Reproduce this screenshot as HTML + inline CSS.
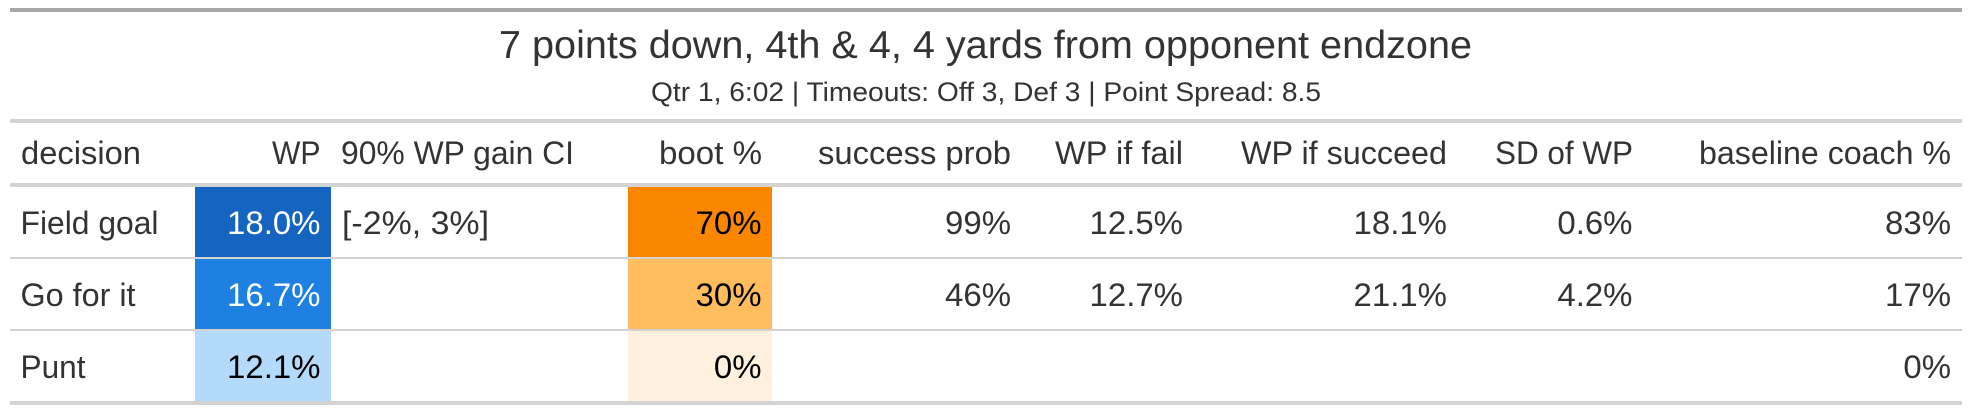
<!DOCTYPE html>
<html lang="en">
<head>
<meta charset="utf-8">
<title>Fourth down decision table</title>
<style>
  html, body { margin: 0; padding: 0; background: #ffffff; }
  body { width: 1972px; height: 412px; overflow: hidden; }
  svg { display: block; }
  text { font-family: "Liberation Sans", sans-serif; fill: #333333; }
</style>
</head>
<body>
<svg id="table" xmlns="http://www.w3.org/2000/svg" width="1972" height="412" viewBox="0 0 1972 412"></svg>
<script>
// ---- Data ----
const titleText = '7 points down, 4th & 4, 4 yards from opponent endzone';
const subtitleText = 'Qtr 1, 6:02 | Timeouts: Off 3, Def 3 | Point Spread: 8.5';
const columnLabels = ['decision', 'WP', '90% WP gain CI', 'boot %', 'success prob', 'WP if fail', 'WP if succeed', 'SD of WP', 'baseline coach %'];
const decisions = ['Field goal', 'Go for it', 'Punt'];
const wpValues = [18.0, 16.7, 12.1];
const ciLabels = ['[-2%, 3%]', '', ''];
const bootValues = [70, 30, 0];
const successValues = [99, 46, null];
const failValues = [12.5, 12.7, null];
const succeedValues = [18.1, 21.1, null];
const sdValues = [0.6, 4.2, null];
const coachValues = [83, 17, 0];
const wpColorDomain = [12.1, 16.7, 18.0];
const bootColorDomain = [0, 30, 70];

// ---- Layout and styling ----
const wpColorRange = ['#B4DAFB', '#1E80E0', '#1565C0'];
const bootColorRange = ['#FFF1DE', '#FFBD5E', '#FB8700'];
const layout = {
  left: 10, right: 1962,
  rowTop: 187, rowHeight: 72, cellHeight: 70,
  headerBaseline: 164, rowBaselineOffset: 47,
  wpCell: { x: 195, width: 136 },
  bootCell: { x: 628, width: 144 },
  bodySize: 32, titleSize: 39, subtitleSize: 26.5, valueStretch: 1.03
};
const headerSpans = {
  'decision': { x: 21, w: 120 },
  'WP': { x: 272, w: 48.5 },
  '90% WP gain CI': { x: 341, w: 233 },
  'boot %': { x: 659, w: 103 },
  'success prob': { x: 818, w: 193 },
  'WP if fail': { x: 1055, w: 128 },
  'WP if succeed': { x: 1241, w: 206 },
  'SD of WP': { x: 1495, w: 138 },
  'baseline coach %': { x: 1699, w: 252 }
};
const decisionWidths = { 'Field goal': 138, 'Go for it': 115, 'Punt': 65 };
const columnRight = { wp: 320.5, boot: 761.5, success: 1011, fail: 1183, succeed: 1447, sd: 1632.5, coach: 1951 };

const svg = document.getElementById('table');
const NS = 'http://www.w3.org/2000/svg';

// ---- Scales ----
function hexToRgb(h) {
  return [parseInt(h.slice(1, 3), 16), parseInt(h.slice(3, 5), 16), parseInt(h.slice(5, 7), 16)];
}
function colorScale(domain, range, v) {
  let i = 0;
  while (i < domain.length - 2 && v > domain[i + 1]) i++;
  const t = Math.max(0, Math.min(1, (v - domain[i]) / (domain[i + 1] - domain[i])));
  const a = hexToRgb(range[i]);
  const b = hexToRgb(range[i + 1]);
  return 'rgb(' + a.map((c, k) => Math.round(c + (b[k] - c) * t)).join(',') + ')';
}
function inkFor(fill) {
  const c = fill.match(/\d+/g).map(Number);
  const lum = 0.299 * c[0] + 0.587 * c[1] + 0.114 * c[2];
  return lum < 150 ? '#FFFFFF' : '#000000';
}
function rowTop(i) { return layout.rowTop + i * layout.rowHeight; }
function rowBaseline(i) { return rowTop(i) + layout.rowBaselineOffset; }

// ---- Drawing helpers ----
function addRect(name, x, y, w, h, fill) {
  const el = document.createElementNS(NS, 'rect');
  
  
  el.setAttribute('x', x);
  el.setAttribute('y', y);
  el.setAttribute('width', w);
  el.setAttribute('height', h);
  el.setAttribute('fill', fill);
  svg.appendChild(el);
  return el;
}
function addText(name, str, size, baseline, place, ink) {
  const el = document.createElementNS(NS, 'text');
  
  
  el.setAttribute('font-size', size);
  el.setAttribute('y', baseline);
  el.style.fill = ink || '#333333';
  el.textContent = str;
  svg.appendChild(el);
  const natural = el.getComputedTextLength();
  const width = place.w !== undefined ? place.w : natural * layout.valueStretch;
  const x = place.x !== undefined ? place.x : place.right - width;
  el.setAttribute('x', x);
  el.setAttribute('textLength', width);
  el.setAttribute('lengthAdjust', 'spacingAndGlyphs');
  return el;
}
function pct(v, digits) { return v.toFixed(digits) + '%'; }
function slug(s) { return s.toLowerCase().replace(/[^a-z0-9]+/g, '-').replace(/^-|-$/g, ''); }

// ---- Rules ----
const ruleWidth = layout.right - layout.left;
addRect('top-rule', layout.left, 8, ruleWidth, 4, '#A8A8A8');
addRect('title-rule', layout.left, 119, ruleWidth, 4, '#D3D3D3');
addRect('header-rule', layout.left, 183, ruleWidth, 4, '#D3D3D3');

// ---- Title ----
addText('table-title', titleText, layout.titleSize, 58, { x: 499, w: 973 });
addText('table-subtitle', subtitleText, layout.subtitleSize, 101, { x: 651, w: 670 });

// ---- Column headers ----
columnLabels.forEach(function (label) {
  addText('column-header-' + slug(label), label, layout.bodySize, layout.headerBaseline, headerSpans[label]);
});

// ---- Heat cells ----
wpValues.forEach(function (v, i) {
  addRect('wp-cell-' + slug(decisions[i]), layout.wpCell.x, rowTop(i), layout.wpCell.width, layout.cellHeight, colorScale(wpColorDomain, wpColorRange, v));
});
bootValues.forEach(function (v, i) {
  addRect('boot-cell-' + slug(decisions[i]), layout.bootCell.x, rowTop(i), layout.bootCell.width, layout.cellHeight, colorScale(bootColorDomain, bootColorRange, v));
});

// ---- Row rules ----
addRect('row-rule-field-goal', layout.left, 257, ruleWidth, 2, '#D3D3D3');
addRect('row-rule-go-for-it', layout.left, 329, ruleWidth, 2, '#D3D3D3');
addRect('bottom-rule', layout.left, 401, ruleWidth, 4, '#D3D3D3');

// ---- Body text ----
decisions.forEach(function (d, i) {
  const key = slug(d);
  const y = rowBaseline(i);
  addText('decision-' + key, d, layout.bodySize, y, { x: 20.5, w: decisionWidths[d] });
  addText('wp-value-' + key, pct(wpValues[i], 1), layout.bodySize, y, { right: columnRight.wp }, inkFor(colorScale(wpColorDomain, wpColorRange, wpValues[i])));
  if (ciLabels[i]) addText('ci-value-' + key, ciLabels[i], layout.bodySize, y, { x: 342, w: 147 });
  addText('boot-value-' + key, pct(bootValues[i], 0), layout.bodySize, y, { right: columnRight.boot }, inkFor(colorScale(bootColorDomain, bootColorRange, bootValues[i])));
  if (successValues[i] !== null) addText('success-value-' + key, pct(successValues[i], 0), layout.bodySize, y, { right: columnRight.success });
  if (failValues[i] !== null) addText('fail-value-' + key, pct(failValues[i], 1), layout.bodySize, y, { right: columnRight.fail });
  if (succeedValues[i] !== null) addText('succeed-value-' + key, pct(succeedValues[i], 1), layout.bodySize, y, { right: columnRight.succeed });
  if (sdValues[i] !== null) addText('sd-value-' + key, pct(sdValues[i], 1), layout.bodySize, y, { right: columnRight.sd });
  addText('coach-value-' + key, pct(coachValues[i], 0), layout.bodySize, y, { right: columnRight.coach });
});
</script>
</body>
</html>
